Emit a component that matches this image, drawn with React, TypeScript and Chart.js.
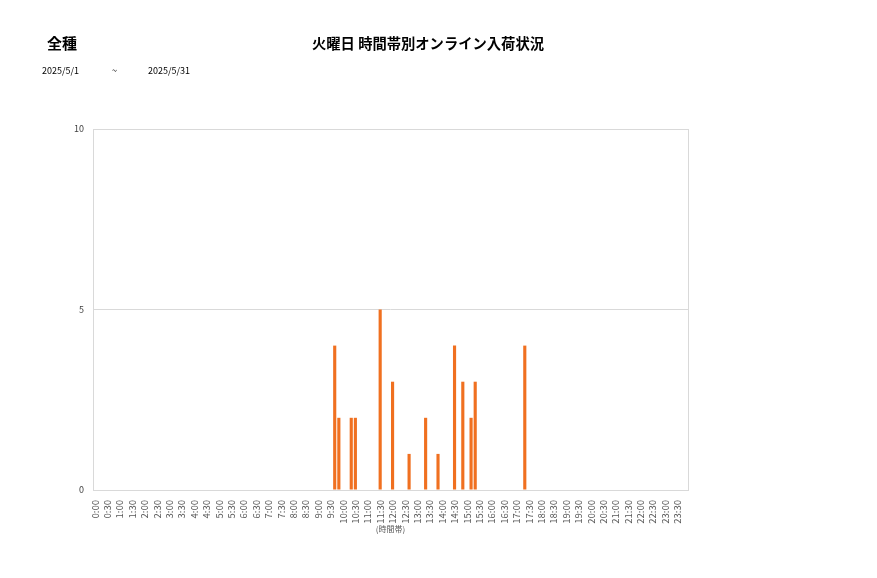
import { useEffect, useRef } from "react";
import { Chart, registerables } from "chart.js";

Chart.register(...registerables);

// 10-minute slots, 0:00 .. 23:50
const slots: string[] = [];
for (let h = 0; h < 24; h++) {
  for (let m = 0; m < 60; m += 10) slots.push(`${h}:${m === 0 ? "00" : m}`);
}

// slots that had arrivals, and how many
const arrivalSlots = ["9:40", "9:50", "10:20", "10:30", "11:30", "12:00", "12:40", "13:20", "13:50", "14:30", "14:50", "15:10", "15:20", "17:20"];
const arrivalCounts = [4, 2, 2, 2, 5, 3, 1, 2, 1, 4, 3, 2, 3, 4];

const yTicks = [0, 5, 10];

const FONT = "'Noto Sans CJK JP', 'Noto Sans', sans-serif";
const BAR = "#F07020";
const LINE = "#d9d9d9";

const frame = {
  id: "frame",
  afterDraw(chart: Chart) {
    const { ctx, chartArea: a } = chart;
    ctx.save();
    ctx.strokeStyle = LINE;
    ctx.lineWidth = 1;
    ctx.strokeRect(Math.round(a.left) + 0.5, Math.round(a.top) + 0.5, Math.round(a.right - a.left), Math.round(a.bottom - a.top));
    ctx.restore();
  },
};

export default function App() {
  const ref = useRef<HTMLCanvasElement>(null);

  useEffect(() => {
    if (!ref.current) return;
    const values = slots.map((s) => {
      const i = arrivalSlots.indexOf(s);
      return i >= 0 ? arrivalCounts[i] : 0;
    });

    const chart = new Chart(ref.current, {
      type: "bar",
      data: {
        labels: slots,
        datasets: [
          {
            data: values,
            backgroundColor: BAR,
            categoryPercentage: 1,
            barPercentage: 0.76,
          },
        ],
      },
      options: {
        animation: false,
        responsive: false,
        layout: { padding: { left: 0, top: 129, right: 189, bottom: 0 } },
        plugins: { legend: { display: false }, tooltip: { enabled: false } },
        scales: {
          x: {
            grid: { display: false },
            border: { color: LINE },
            ticks: {
              autoSkip: false,
              maxRotation: 90,
              minRotation: 90,
              padding: 2,
              color: "#595959",
              font: { family: FONT, size: 9.5 },
              callback: (_v, i) => (i % 3 === 0 ? slots[i] : ""),
            },
            title: {
              display: true,
              text: "(時間帯)",
              color: "#595959",
              font: { family: FONT, size: 8 },
              padding: { top: 0, bottom: 44 },
            },
            afterFit: (s) => {
              s.height = 88;
            },
          },
          y: {
            min: 0,
            max: 10,
            grid: { color: LINE, drawTicks: false },
            border: { display: false },
            afterBuildTicks: (s) => {
              s.ticks = yTicks.map((v) => ({ value: v }));
            },
            ticks: {
              padding: 9,
              color: "#404040",
              font: { family: FONT, size: 9 },
            },
            afterFit: (s) => {
              s.width = 93;
            },
          },
        },
      },
      plugins: [frame],
    });

    return () => chart.destroy();
  }, []);

  const text = { position: "absolute" as const, fontFamily: FONT, color: "#000", whiteSpace: "nowrap" as const };

  return (
    <div style={{ position: "absolute", left: 0, top: 0, width: 877, height: 578, background: "#fff" }}>
      <canvas ref={ref} width={877} height={578} style={{ position: "absolute", left: 0, top: 0 }} />
      <div style={{ ...text, left: 47, top: 32, fontSize: 15, fontWeight: 700 }}>全種</div>
      <div style={{ ...text, left: 312, top: 32, fontSize: 14.3, fontWeight: 700 }}>火曜日 時間帯別オンライン入荷状況</div>
      <div style={{ ...text, left: 42, top: 64, fontSize: 9 }}>2025/5/1</div>
      <div style={{ ...text, left: 112, top: 64, fontSize: 9 }}>~</div>
      <div style={{ ...text, left: 148, top: 64, fontSize: 9 }}>2025/5/31</div>
    </div>
  );
}
